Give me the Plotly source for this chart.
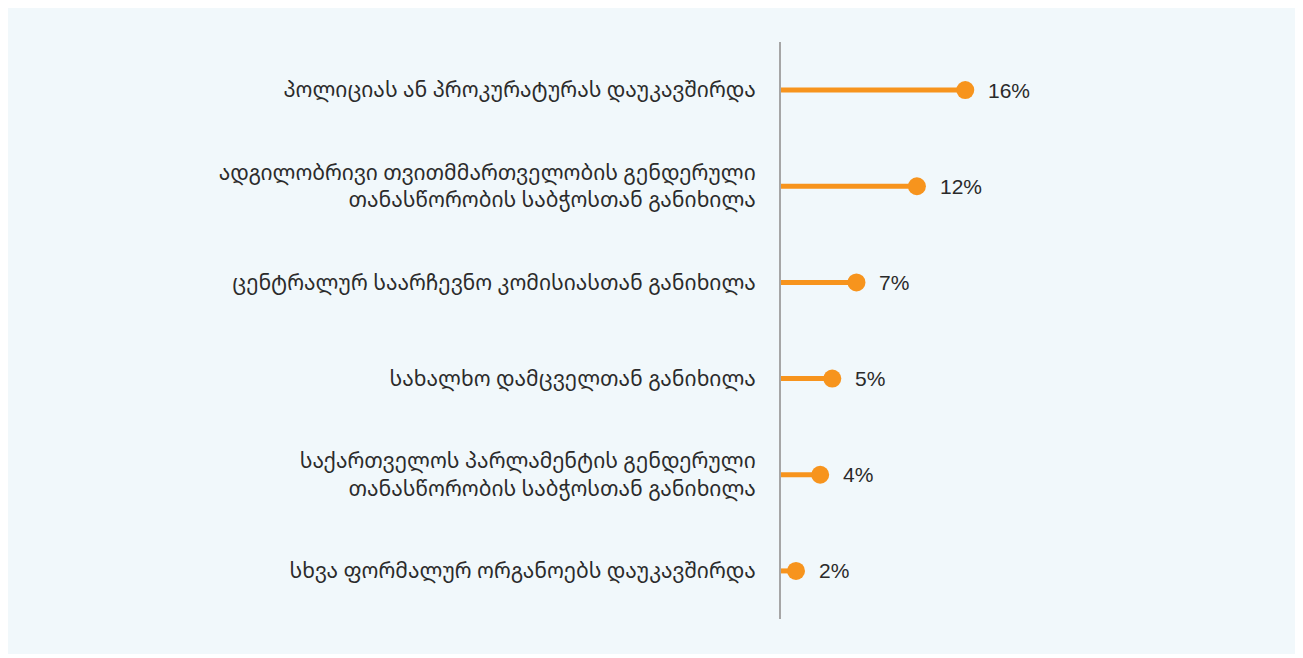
import plotly.graph_objects as go

categories = [
    "პოლიციას ან პროკურატურას დაუკავშირდა",
    "ადგილობრივი თვითმმართველობის გენდერული<br>თანასწორობის საბჭოსთან განიხილა",
    "ცენტრალურ საარჩევნო კომისიასთან განიხილა",
    "სახალხო დამცველთან განიხილა",
    "საქართველოს პარლამენტის გენდერული<br>თანასწორობის საბჭოსთან განიხილა",
    "სხვა ფორმალურ ორგანოებს დაუკავშირდა",
]
values = [16, 12, 7, 5, 4, 2]
value_labels = [f"{v}%" for v in values]

ORANGE = "#f7941d"
BG = "#f1f8fb"

line_x, line_y = [], []
for c, v in zip(categories, values):
    line_x += [0, v, None]
    line_y += [c, c, None]

fig = go.Figure()
fig.add_trace(go.Scatter(
    x=line_x, y=line_y, mode="lines",
    line=dict(color=ORANGE, width=5),
    hoverinfo="skip", showlegend=False,
))
fig.add_trace(go.Scatter(
    x=values, y=categories, mode="markers",
    marker=dict(color=ORANGE, size=18),
    showlegend=False, cliponaxis=False,
))

for c, v, t in zip(categories, values, value_labels):
    fig.add_annotation(
        x=v, y=c, text=t, showarrow=False, xanchor="left", yanchor="middle",
        xshift=21, font=dict(family="Liberation Sans, Arial, sans-serif", size=21, color="#2a2a2a"),
    )

fig.update_layout(
    width=1287, height=646,
    paper_bgcolor=BG, plot_bgcolor=BG,
    margin=dict(l=773, r=100, t=34, b=35),
    xaxis=dict(range=[0.76, 35.0], showticklabels=False, showgrid=False,
               zeroline=False, showline=False, fixedrange=True),
    yaxis=dict(range=[5.5, -0.5], type="category", showline=True, linecolor="#a6a6a6", linewidth=2,
               showgrid=False, zeroline=False, ticks="", ticklabelstandoff=19,
               tickfont=dict(family="Noto Sans Georgian, Noto Sans, DejaVu Sans, sans-serif", size=21, color="#2b2b2b")),
)

fig.write_html("out.html")
